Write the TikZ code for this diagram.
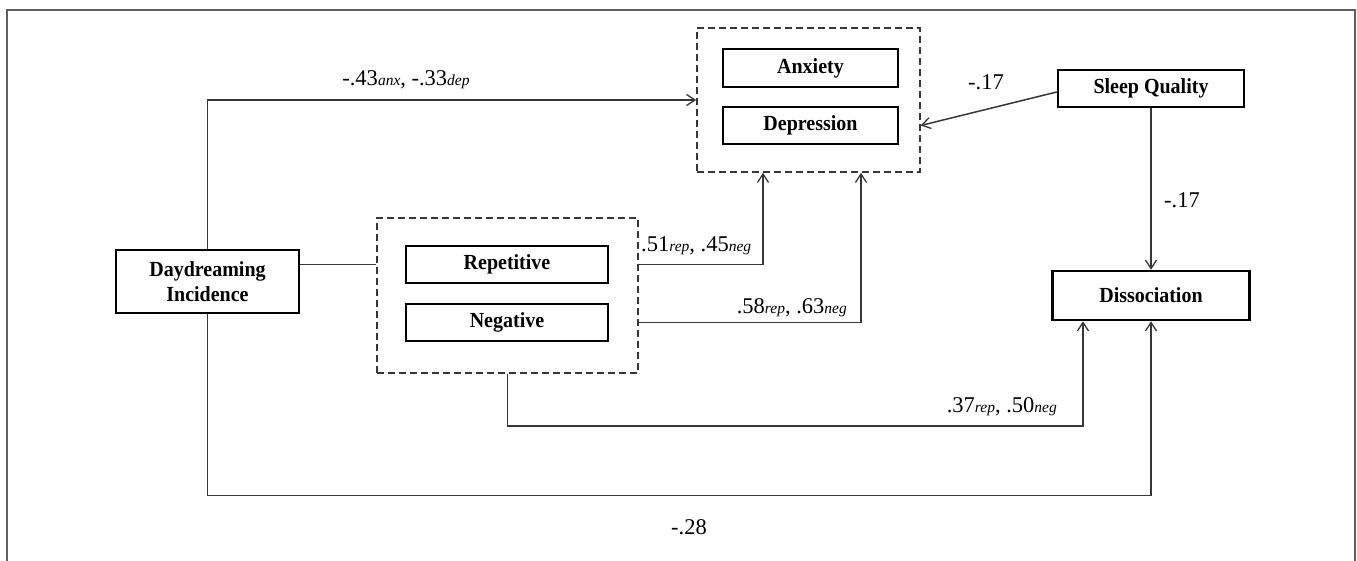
\documentclass[tikz,border=0pt]{standalone}
\usepackage{fontspec}
\setmainfont{Liberation Serif}
\newfontfamily\boxfont{Liberation Serif}[FakeStretch=0.93]
\newfontfamily\labfont{Liberation Serif}
\usetikzlibrary{arrows.meta}
\definecolor{framegray}{RGB}{95,95,95}
\definecolor{linegray}{RGB}{55,55,55}
\newcommand{\sbt}[1]{{\fontsize{15.5}{16}\selectfont\itshape #1}}
\tikzset{
  varbox/.style={draw=black, line width=2.5pt, rectangle, inner sep=0pt,
    font=\boxfont\fontsize{21.5}{25}\selectfont\bfseries, align=center},
  groupbox/.style={draw=linegray, line width=1.5pt, dash pattern=on 7pt off 4pt, rectangle, inner sep=0pt},
  conn/.style={draw=linegray, line width=1.5pt},
  arr/.style={conn, -{Straight Barb[length=8.5pt,width=11pt,line width=1.3pt]}},
  elab/.style={font=\labfont\fontsize{22.5}{25}\selectfont, inner sep=0pt},
  framec/.style={draw=framegray, line width=1.6pt}
}
\begin{document}
\begin{tikzpicture}[x=1pt,y=-1pt]
\useasboundingbox (0,0) rectangle (1357,561);
\draw[framec] (7,561) -- (7,10) -- (1355,10) -- (1355,561);

% group boxes
\node[groupbox, minimum width=223pt, minimum height=144pt] (box1) at (808.5,100) {};
\node[groupbox, minimum width=261pt, minimum height=155pt] (box2) at (507.5,295.5) {};

% variable boxes
\node[varbox, minimum width=175pt, minimum height=38pt] (anx) at (810.5,68) {Anxiety};
\node[varbox, minimum width=175pt, minimum height=37pt] (dep) at (810.5,125.5) {Depression};
\node[varbox, minimum width=186pt, minimum height=37pt] (sleep) at (1151,88.5) {Sleep Quality};
\node[varbox, minimum width=197pt, minimum height=49pt] (dis) at (1151,295.5) {Dissociation};
\node[varbox, minimum width=183pt, minimum height=63pt] (day) at (207.5,281.5) {Daydreaming\\Incidence};
\node[varbox, minimum width=202pt, minimum height=37pt] (rep) at (507,264.5) {Repetitive};
\node[varbox, minimum width=202pt, minimum height=37pt] (neg) at (507,322.5) {Negative};

% connectors
\draw[arr] (day.north) |- (box1.west);
\draw[conn] (day.east |- rep.center) -- (box2.west |- rep.center);
\draw[arr] (box2.east |- rep.center) -| ([xshift=-45.5pt]box1.south);
\draw[arr] (box2.east |- neg.center) -| ([xshift=52.5pt]box1.south);
\draw[arr] ([yshift=-3.5pt]sleep.west) -- (box1.east |- dep.center);
\draw[arr] (sleep.south) -- (dis.north);
\draw[arr] (box2.south) -- ++(0,52) -| ([xshift=-68pt]dis.south);
\draw[arr] (day.south) -- ++(0,181) -| (dis.south);

% labels
\node[elab] (l1) at (406,80) {-.43\sbt{anx}, -.33\sbt{dep}};
\node[elab] (l2) at (986,82) {-.17};
\node[elab] (l3) at (1182,200) {-.17};
\node[elab, anchor=west] (l4) at (641,246) {.51\sbt{rep}, .45\sbt{neg}};
\node[elab, anchor=east] (l5) at (847,308) {.58\sbt{rep}, .63\sbt{neg}};
\node[elab, anchor=east] (l6) at (1057,407) {.37\sbt{rep}, .50\sbt{neg}};
\node[elab] (l7) at (689,527) {-.28};
\end{tikzpicture}
\end{document}
